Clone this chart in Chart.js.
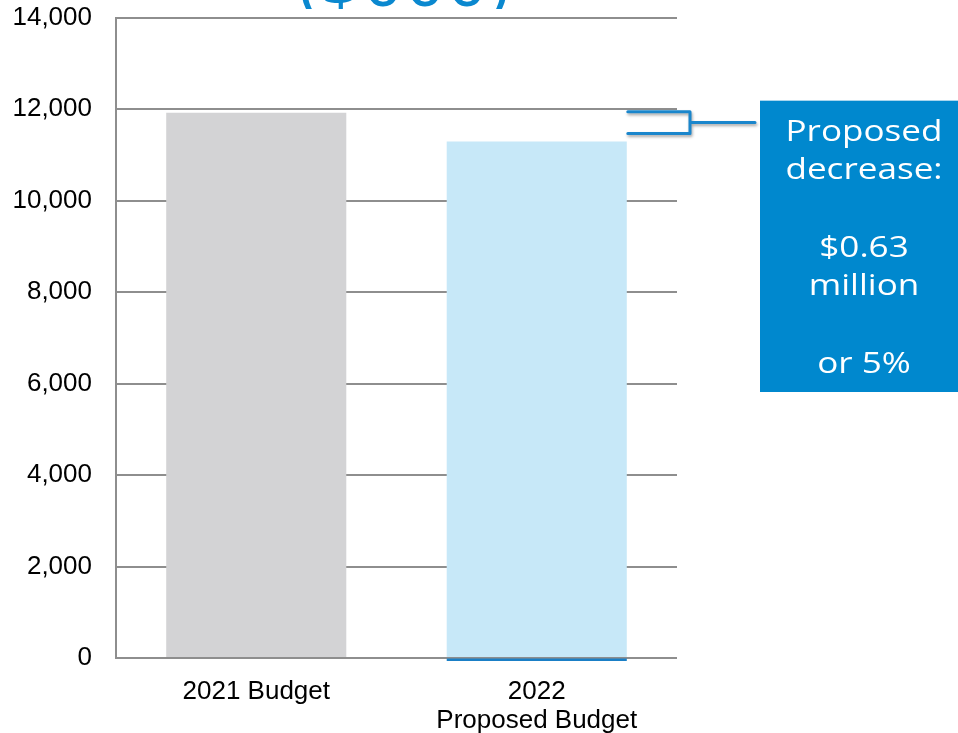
<!DOCTYPE html>
<html>
<head>
<meta charset="utf-8">
<title>Budget ($000)</title>
<script src="https://cdn.jsdelivr.net/npm/chart.js@4/dist/chart.umd.min.js"></script>
<style>
  html, body { margin: 0; padding: 0; background: #fff; overflow: hidden; }
  canvas { display: block; }
</style>
</head>
<body>
<canvas id="budgetChart" width="958" height="733"></canvas>
<script>
// DATA
const categories = ["2021 Budget", ["2022", "Proposed Budget"]];
const budgetValues = [11920, 11290];
const barColors = ["#d3d3d5", "#c7e8f8"];
const yMax = 14000;
const yStep = 2000;
const titleText = "($000)";
const noteLines = ["Proposed", "decrease:", "", "$0.63", "million", "", "or 5%"];

const BLUE = "#0a88cf";
const GRID = "#8e8e8e";

// ANNOTATIONS

const annotationPlugin = {
    id: "annotations",
    afterDatasetsDraw(chart) {
        const ctx = chart.ctx;
        const y = chart.scales.y;
        // blue baseline under the proposed bar
        const bar = chart.getDatasetMeta(0).data[1];
        ctx.save();
        ctx.fillStyle = "#1a7fc6";
        ctx.fillRect(bar.x - bar.width / 2, y.getPixelForValue(0) + 0.5, bar.width, 2.5);
        ctx.restore();
    },
    afterDraw(chart) {
        const ctx = chart.ctx;
        const y = chart.scales.y;
        const bar = chart.getDatasetMeta(0).data[1];
        const area = chart.chartArea;

        // title, cut off by the top edge
        ctx.save();
        ctx.beginPath();
        ctx.rect(0, 0, chart.width, 9);
        ctx.clip();
        ctx.fillStyle = BLUE;
        ctx.font = "70px 'Open Sans'";
        ctx.letterSpacing = "2px";
        ctx.textAlign = "center";
        ctx.textBaseline = "alphabetic";
        ctx.fillText(titleText, 405, 6);
        ctx.restore();

        // bracket
        const top = y.getPixelForValue(budgetValues[0]) - 1;
        const bottom = y.getPixelForValue(budgetValues[1]) - 8;
        const left = bar.x + bar.width / 2 + 1;
        const right = area.right + 13;
        const boxLeft = area.right + 83;
        const mid = (top + bottom) / 2;
        ctx.save();
        ctx.strokeStyle = "#1a86cc";
        ctx.lineWidth = 3;
        ctx.lineJoin = "round";
        ctx.lineCap = "round";
        ctx.shadowColor = "rgba(0,0,0,0.35)";
        ctx.shadowBlur = 3;
        ctx.shadowOffsetX = 1;
        ctx.shadowOffsetY = 2;
        ctx.beginPath();
        ctx.moveTo(left, top);
        ctx.lineTo(right, top);
        ctx.lineTo(right, bottom);
        ctx.lineTo(left, bottom);
        ctx.moveTo(right, mid);
        ctx.lineTo(boxLeft - 5, mid);
        ctx.stroke();
        ctx.restore();

        // note box
        const boxTop = top - 11;
        const boxBottom = 392;
        ctx.save();
        ctx.fillStyle = "#0088ce";
        ctx.fillRect(boxLeft, boxTop, chart.width - boxLeft, boxBottom - boxTop);
        ctx.fillStyle = "#ffffff";
        ctx.font = "29px 'Open Sans'";
        ctx.textAlign = "center";
        ctx.textBaseline = "alphabetic";
        // the original face is wide: stretch horizontally to its measure
        const sx = 157 / ctx.measureText(noteLines[0]).width;
        const cx = boxLeft + 104;
        noteLines.forEach((line, i) => {
            if (!line) return;
            ctx.save();
            ctx.translate(cx, boxTop + 40 + i * 38.7);
            ctx.scale(sx, 1);
            ctx.fillText(line, 0, 0);
            ctx.restore();
        });
        ctx.restore();
    },
};

const chart = new Chart(document.getElementById("budgetChart"), {
    type: "bar",
    data: {
        labels: categories,
        datasets: [
            {
                data: budgetValues,
                backgroundColor: barColors,
                borderWidth: 0,
                barPercentage: 0.642,
                categoryPercentage: 1,
            },
        ],
    },
    options: {
        responsive: false,
        animation: false,
        layout: { padding: { top: 17.5, right: 281, left: 0, bottom: 0 } },
        plugins: {
            legend: { display: false },
            tooltip: { enabled: false },
            title: { display: false },
        },
        scales: {
            x: {
                grid: { display: false, drawTicks: false },
                border: { display: false },
                ticks: {
                    color: "#000",
                    font: { family: "'Liberation Sans', Arial", size: 26, lineHeight: 1.12 },
                    padding: 19,
                    maxRotation: 0,
                    autoSkip: false,
                },
                afterFit(scale) {
                    scale.height = 75;
                    scale.paddingLeft = 0;
                    scale.paddingRight = 0;
                },
            },
            y: {
                min: 0,
                max: yMax,
                grid: { color: GRID, lineWidth: 2, drawTicks: false },
                border: { display: true, color: GRID, width: 2 },
                ticks: {
                    stepSize: yStep,
                    color: "#000",
                    font: { family: "'Liberation Sans', Arial", size: 26 },
                    padding: 24,
                    callback: (v) => v.toLocaleString("en-US"),
                },
                afterFit(scale) {
                    scale.width = 116;
                    scale.paddingTop = 0;
                    scale.paddingBottom = 0;
                },
            },
        },
    },
    plugins: [annotationPlugin],
});
</script>
</body>
</html>
